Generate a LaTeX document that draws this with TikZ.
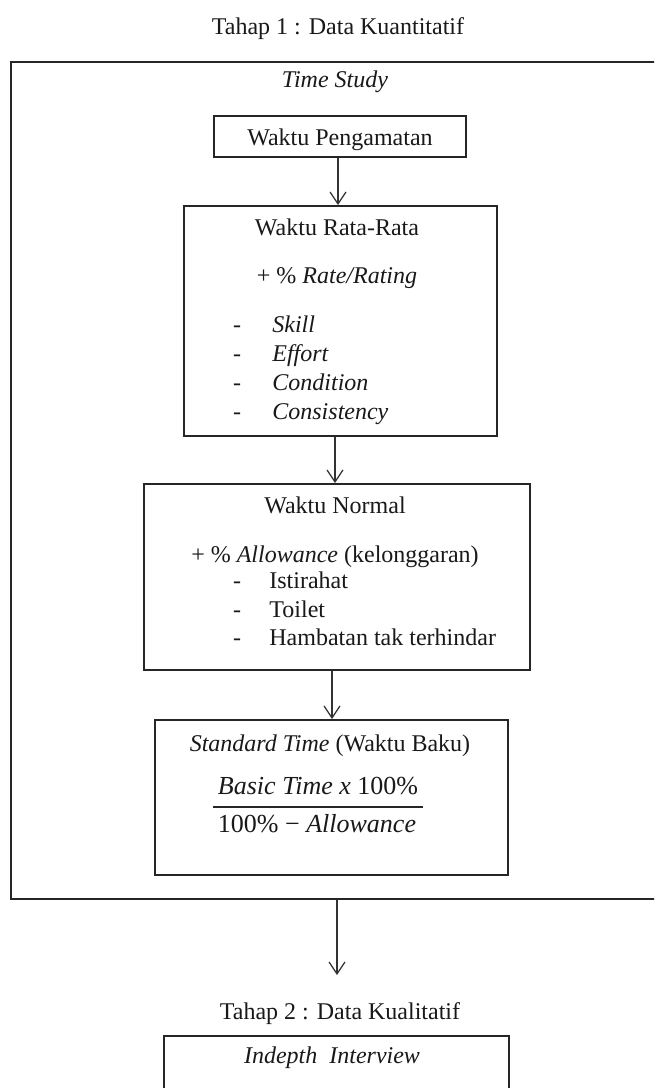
\documentclass[tikz,border=0pt]{standalone}
\usepackage{fontspec}
\setmainfont{Liberation Serif}
\usetikzlibrary{arrows.meta,fit}
\begin{document}
\begin{tikzpicture}[x=0.5pt,y=-0.5pt,
  box/.style={draw=black!85,line width=1pt,inner sep=0pt,rectangle},
  txt/.style={anchor=base,inner sep=0pt,font=\fontsize{12}{14}\selectfont,text=black!90},
  ltxt/.style={txt,anchor=base west},
  arr/.style={-{Straight Barb[length=6pt,width=8pt]},line width=0.6pt,draw=black!80}]
\useasboundingbox (0,0) rectangle (654,1088);
\clip (0,0) rectangle (654,1088);
\fill[white] (0,0) rectangle (654,1088);

% titles
\node[txt] (t1) at (338,34) {Tahap 1 : Data Kuantitatif};
\node[txt] (t2) at (340,1019) {Tahap 2 : Data Kualitatif};

% outer box
\node[box,fit={(11,62) (672,899)}] (outer) {};
\node[txt] (ts) at (335,87) {\textit{Time Study}};

% Waktu Pengamatan
\node[box,fit={(214,116) (466,157)}] (wp) {};
\node[txt] (wpt) at (340,145) {Waktu Pengamatan};

% Waktu Rata-Rata
\node[box,fit={(184,206) (497,436)}] (rr) {};
\node[txt] (rrt) at (337,235) {Waktu Rata-Rata};
\node[txt] (rrp) at (337,283) {+ \% \textit{Rate/Rating}};
\node[txt] (d1) at (237,332) {-};
\node[txt] (d2) at (237,361) {-};
\node[txt] (d3) at (237,390) {-};
\node[txt] (d4) at (237,419) {-};
\node[ltxt] (l1) at (272,332) {\textit{Skill}};
\node[ltxt] (l2) at (272,361) {\textit{Effort}};
\node[ltxt] (l3) at (272,390) {\textit{Condition}};
\node[ltxt] (l4) at (272,419) {\textit{Consistency}};

% Waktu Normal
\node[box,fit={(144,484) (530,670)}] (wn) {};
\node[txt] (wnt) at (335,513) {Waktu Normal};
\node[txt] (wna) at (335,562) {+ \% \textit{Allowance} (kelonggaran)};
\node[txt] (e1) at (237,588) {-};
\node[txt] (e2) at (237,617) {-};
\node[txt] (e3) at (237,645) {-};
\node[ltxt] (m1) at (269,588) {Istirahat};
\node[ltxt] (m2) at (269,617) {Toilet};
\node[ltxt] (m3) at (269,645) {Hambatan tak terhindar};

% Standard Time
\node[box,fit={(155,720) (508,875)}] (st) {};
\node[txt] (stt) at (330,751) {\textit{Standard Time} (Waktu Baku)};
\node[txt,font=\fontsize{13}{15}\selectfont] (num) at (318,794) {\textit{Basic Time x} 100\%};
\draw[line width=1pt,black!85] (213,807) -- (423,807);
\node[txt,font=\fontsize{13}{15}\selectfont] (den) at (317,832) {100\% − \textit{Allowance}};

% Indepth Interview
\node[box,fit={(164,1036) (509,1110)}] (ii) {};
\node[txt] (iit) at (332,1063) {\textit{Indepth\ \ Interview}};

% arrows
\coordinate (c1) at (338,0);
\coordinate (c2) at (335,0);
\coordinate (c3) at (332,0);
\coordinate (e4) at (337,975);
\draw[arr] (wp.south -| c1) -- (rr.north -| c1);
\draw[arr] (rr.south -| c2) -- (wn.north -| c2);
\draw[arr] (wn.south -| c3) -- (st.north -| c3);
\draw[arr] (outer.south -| e4) -- (e4);
\end{tikzpicture}
\end{document}
